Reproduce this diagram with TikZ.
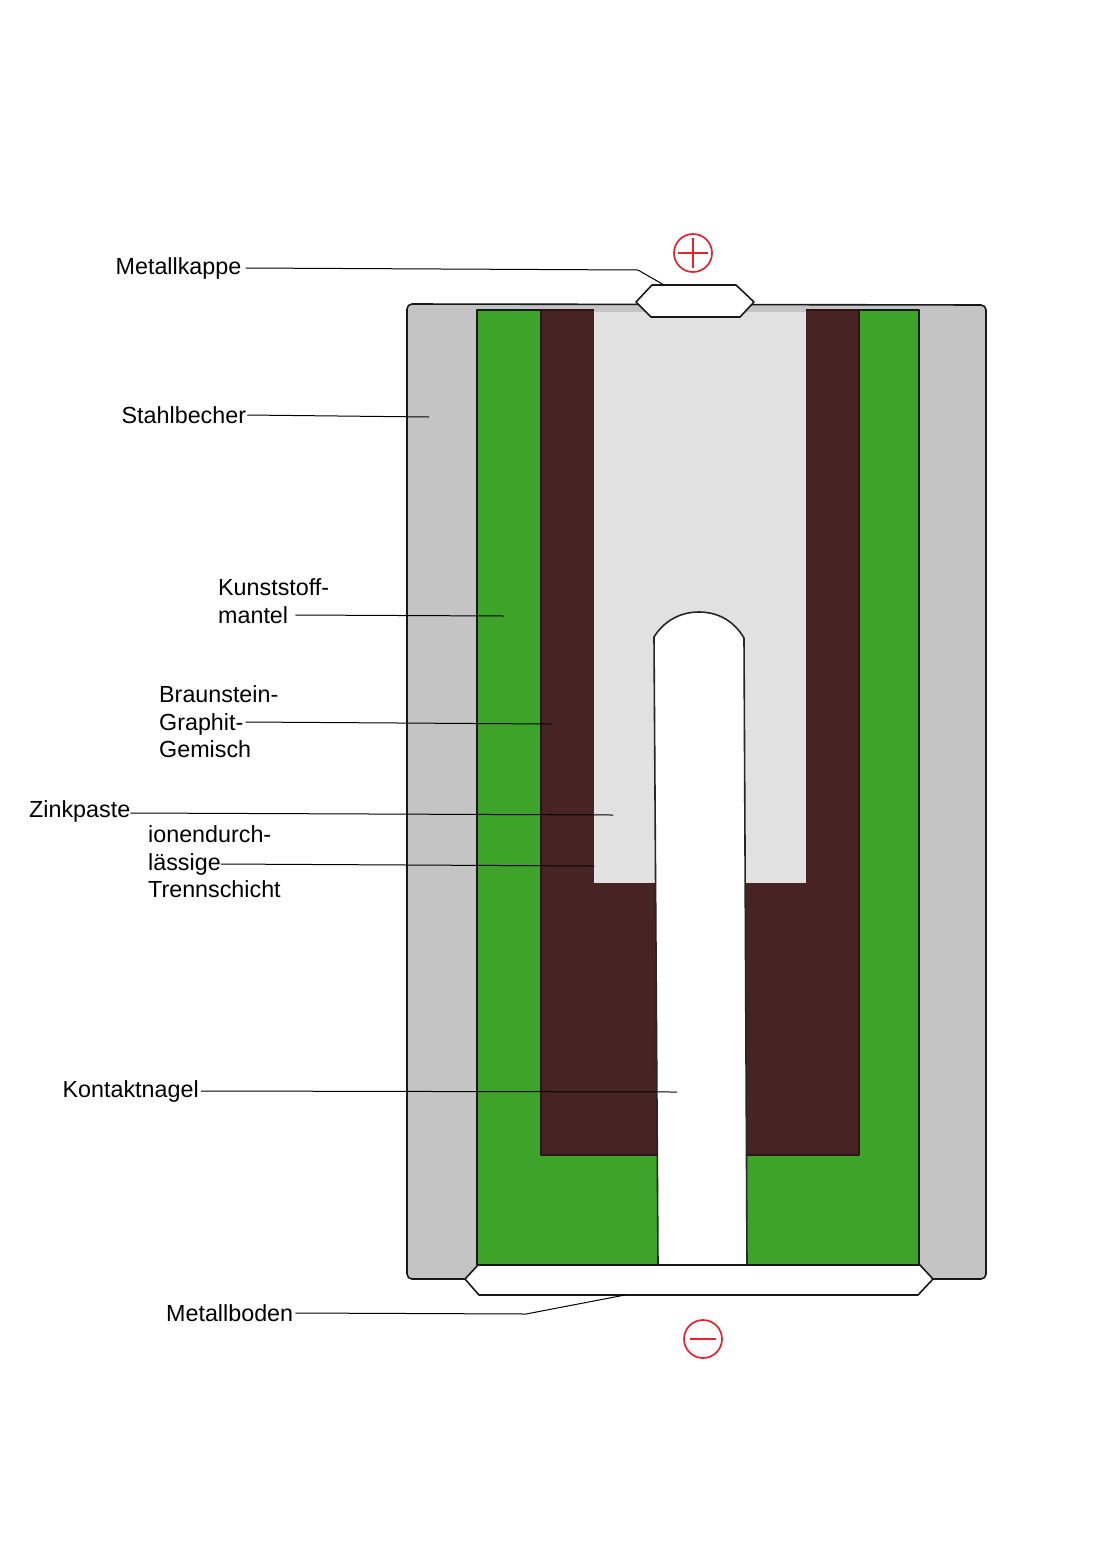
\documentclass[tikz,border=0pt]{standalone}
\usepackage{fontspec}
\usetikzlibrary{calc}
\setmainfont{Liberation Sans}
\definecolor{steel}{HTML}{C4C4C4}
\definecolor{plastic}{HTML}{3DA329}
\definecolor{mix}{HTML}{472324}
\definecolor{mixline}{HTML}{2A1414}
\definecolor{paste}{HTML}{E1E1E1}
\definecolor{polred}{HTML}{E5222E}
\tikzset{
  part/.style={draw=black!90,line width=1.6pt,line join=round},
  lbl/.style={font=\fontsize{23.3}{27.5}\selectfont,align=left,inner xsep=2pt,inner ysep=0pt,anchor=west,text=black},
  leader/.style={draw=black,line width=1pt},
  polarity/.style={circle,draw=polred,line width=1.7pt,minimum size=38pt,inner sep=0pt},
  polsign/.style={polred,line width=1.5pt}
}
\begin{document}
\begin{tikzpicture}[x=1pt,y=-1pt]
\useasboundingbox[fill=white] (0,0) rectangle (1102,1561);
% casing
\path[part,fill=steel,rounded corners=5pt] (407,304) -- (986,305) -- (986,1279) -- (407,1279) -- cycle;
\path[part,fill=plastic] (477,310) rectangle (919,1265);
\path[part,draw=mixline,line width=1.3pt,fill=mix] (541,310) rectangle (859,1155);
\path[fill=steel] (594,308) rectangle (806,311.5);
\path[fill=paste] (594,311.5) rectangle (806,883);
\path[part,draw=black!85,fill=white] (658,1265) -- (654,637) .. controls (664,621) and (680,612) .. (699,612) .. controls (718,612) and (734,621) .. (744,638) -- (747,1265) -- cycle;
% terminals
\path[part,fill=white] (636,302) -- (652,285) -- (736,285) -- (754,302) -- (740,317) -- (651,317) -- cycle;
\path[part,fill=white] (465,1279) -- (478,1265) -- (920,1265) -- (933,1279) -- (918,1295) -- (479,1295) -- cycle;
% polarity signs
\node[polarity] (plus) at (693,253) {};
\draw[polsign] ($(plus.west)+(5,0)$) -- ($(plus.east)+(-5,0)$);
\draw[polsign] ($(plus.north)+(0,5)$) -- ($(plus.south)+(0,-5)$);
\node[polarity] (minus) at (703,1339) {};
\draw[polsign] ($(minus.west)+(7,0)$) -- ($(minus.east)+(-7,0)$);
% labels
\node[lbl] (kappe) at (113.5,268) {Metallkappe};
\node[lbl] (becher) at (119.5,415) {Stahlbecher};
\node[lbl] (mantel) at (216,601) {Kunststoff-\\mantel};
\node[lbl] (gemisch) at (157,722) {Braunstein-\\Graphit-\\Gemisch};
\node[lbl] (zink) at (27,811) {Zinkpaste};
\node[lbl] (trenn) at (146,862) {ionendurch-\\lässige\\Trennschicht};
\node[lbl] (nagel) at (60.5,1091) {Kontaktnagel};
\node[lbl] (boden) at (164,1313) {Metallboden};
% leader ends
\coordinate (kappeBend) at (638,270);
\coordinate (kappeEnd) at (664,285);
\coordinate (becherEnd) at (429,417);
\coordinate (mantelEnd) at (504,616);
\coordinate (gemischEnd) at (552,724);
\coordinate (zinkEnd) at (613,815);
\coordinate (trennEnd) at (594,866);
\coordinate (nagelEnd) at (677,1092);
\coordinate (bodenBend) at (526,1314);
\coordinate (bodenEnd) at (625,1295);
\draw[leader] ($(kappe.east)+(2,0)$) -- (kappeBend) -- (kappeEnd);
\draw[leader] ($(becher.east)+(-1,0)$) -- (becherEnd);
\draw[leader] (mantel.east |- 0,615) ++(-36,0) -- (mantelEnd);
\draw[leader] (gemisch.east |- 0,722) ++(-35,0) -- (gemischEnd);
\draw[leader] ($(zink.east)+(-2,2)$) -- (zinkEnd);
\draw[leader] (trenn.east |- 0,864) ++(-62,0) -- (trennEnd);
\draw[leader] (nagel.east) -- (nagelEnd);
\draw[leader] (boden.east) -- (bodenBend) -- (bodenEnd);
\end{tikzpicture}
\end{document}
